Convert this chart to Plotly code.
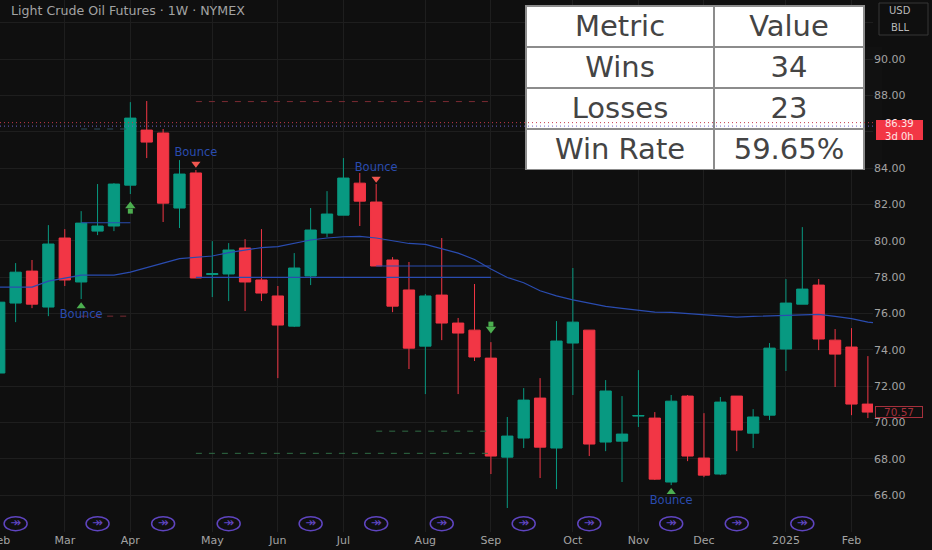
import plotly.graph_objects as go
import pandas as pd

dates = pd.date_range("2024-02-05", periods=54, freq="7D").strftime("%Y-%m-%d").tolist()
opens = [72.72,76.57,78.33,76.35,80.15,77.73,80.53,80.81,83.06,86.09,85.93,81.80,83.73,78.14,78.17,79.60,77.84,76.96,
         75.30,78.06,80.42,81.41,83.17,82.13,78.94,77.29,74.20,77.01,75.47,75.08,73.54,68.09,69.14,71.34,68.59,74.37,
         75.08,68.92,68.97,70.35,70.24,66.72,71.45,68.04,67.16,71.45,69.41,70.40,74.04,76.51,77.56,74.53,74.15,71.01]
highs = [76.74,78.77,78.94,80.86,80.64,81.63,83.12,83.17,87.63,87.69,86.15,84.44,83.89,79.98,79.87,80.09,80.64,77.51,
         79.32,81.80,82.73,84.55,83.73,83.12,79.10,78.83,77.07,80.15,75.75,77.62,74.42,70.30,71.89,72.44,75.58,78.50,
         75.08,72.33,71.45,72.88,70.57,71.51,71.51,70.51,71.40,71.45,70.73,74.37,77.89,80.75,77.89,75.14,75.19,73.65]
lows = [72.72,75.52,76.29,75.85,77.51,76.79,80.31,80.53,82.57,84.55,81.03,80.70,77.95,76.90,76.68,76.13,76.68,72.44,
        75.25,77.56,80.20,81.41,80.81,78.61,76.07,72.94,71.56,74.53,71.56,73.38,67.16,65.29,68.59,66.94,66.33,71.51,
        68.15,68.42,66.72,69.75,66.83,66.55,67.87,66.99,67.10,68.42,68.59,70.13,72.83,76.51,73.98,71.95,70.40,70.24]
closes = [76.62,78.27,76.51,79.82,77.84,80.97,80.81,83.12,86.75,85.43,82.07,83.67,77.95,78.19,79.49,77.73,77.12,75.36,
          78.50,80.59,81.47,83.45,82.18,78.61,76.40,74.09,76.96,75.47,74.92,73.60,68.15,69.25,71.23,68.64,74.48,75.52,
          68.81,71.73,69.36,70.38,66.88,71.17,68.15,67.10,71.12,69.58,70.30,74.09,76.57,77.34,74.59,73.76,71.01,70.57]
ma_dates = dates + ["2025-02-17"]
ma_values = [77.45,77.45,77.45,77.78,77.95,78.11,78.11,78.11,78.27,78.50,78.77,79.02,79.10,79.16,79.35,79.49,79.62,79.68,
             79.85,80.04,80.15,80.22,80.24,80.15,80.00,79.85,79.80,79.58,79.32,78.97,78.44,77.98,77.69,77.25,76.97,76.75,
             76.57,76.39,76.28,76.17,76.07,76.06,76.00,75.91,75.89,75.80,75.84,75.87,75.89,75.96,75.95,75.84,75.71,75.52,75.44]

solid_levels = [("2024-03-11", "2024-04-01", 80.99), ("2024-04-29", "2024-09-02", 77.98), ("2024-07-15", "2024-09-02", 78.61)]
red_dash_levels = [("2024-04-29", "2024-09-02", 87.66), ("2024-03-11", "2024-04-01", 75.85)]
blue_dash_levels = [("2024-03-11", "2024-04-01", 86.15)]
green_dash_levels = [("2024-07-15", "2024-09-02", 69.52), ("2024-04-29", "2024-09-02", 68.30)]

bounce_up_dates = ["2024-03-11", "2024-11-18"]
bounce_up_marks = [76.40, 66.17]
bounce_dn_dates = ["2024-04-29", "2024-07-15"]
bounce_dn_marks = [84.24, 83.41]
bounce_text_dates = ["2024-03-11", "2024-04-29", "2024-07-15", "2024-11-18"]
bounce_text_prices = [75.91, 84.82, 83.98, 65.67]
arrow_up_date, arrow_up_head, arrow_up_shaft = "2024-04-01", 81.91, 81.63
arrow_dn_date, arrow_dn_head, arrow_dn_shaft = "2024-09-02", 75.14, 75.41

event_dates = ["2024-02-12","2024-03-18","2024-04-15","2024-05-13","2024-06-17","2024-07-15","2024-08-12",
               "2024-09-16","2024-10-14","2024-11-18","2024-12-16","2025-01-13"]
event_price = 64.43

month_ticks = ["2024-02-05 12:00","2024-03-04","2024-04-01","2024-05-06","2024-06-03","2024-07-01","2024-08-05",
               "2024-09-02","2024-10-07","2024-11-04","2024-12-02","2025-01-06","2025-02-03"]
month_labels = ["Feb","Mar","Apr","May","Jun","Jul","Aug","Sep","Oct","Nov","Dec","2025","Feb"]
price_ticks = [66,68,70,72,74,76,78,80,82,84,86,88,90,92]
price_labels = ["66.00","68.00","70.00","72.00","74.00","76.00","78.00","80.00","82.00","84.00","","88.00","90.00",""]

table_head = ["Metric", "Value"]
metric_names = ["Wins", "Losses", "Win Rate"]
metric_values = ["34", "23", "59.65%"]

last_price, countdown_price, countdown = 70.57, 86.39, "3d 0h"
tag_top, tag_bottom, tag_middle = 86.64, 85.54, 86.09
dotted_red, dotted_blue = 86.50, 86.31

BG = "#0f0f0f"; GRID = "#1e1e1e"; UP = "#089981"; DOWN = "#f23645"
BLUE = "#2a4cb0"; TEXT = "#a3a3a3"; LIME = "#4caf50"; PURPLE = "#5f45c0"
W, H = 932, 550
PL, PB = 873, 532

fig = go.Figure()
fig.add_trace(go.Scatter(x=ma_dates, y=ma_values, mode="lines", line=dict(color=BLUE, width=1.2), hoverinfo="skip", showlegend=False))
for x0, x1, v in solid_levels:
    fig.add_trace(go.Scatter(x=[x0, x1], y=[v, v], mode="lines", line=dict(color=BLUE, width=1.2), hoverinfo="skip", showlegend=False))
for levels, col in ((red_dash_levels, "#7a2b33"), (blue_dash_levels, "#2f4f60"), (green_dash_levels, "#2f6b45")):
    for x0, x1, v in levels:
        fig.add_trace(go.Scatter(x=[x0, x1], y=[v, v], mode="lines", line=dict(color=col, width=1, dash="6px 7px"), hoverinfo="skip", showlegend=False))

fig.add_trace(go.Candlestick(x=dates, open=opens, high=highs, low=lows, close=closes, showlegend=False,
    increasing=dict(line=dict(color=UP, width=1), fillcolor=UP),
    decreasing=dict(line=dict(color=DOWN, width=1), fillcolor=DOWN)))

fig.add_trace(go.Scatter(x=bounce_up_dates, y=bounce_up_marks, mode="markers", marker=dict(symbol="triangle-up", size=8, color=LIME, line_width=0), showlegend=False))
fig.add_trace(go.Scatter(x=bounce_dn_dates, y=bounce_dn_marks, mode="markers", marker=dict(symbol="triangle-down", size=8, color="#f0564f", line_width=0), showlegend=False))
fig.add_trace(go.Scatter(x=bounce_text_dates, y=bounce_text_prices, mode="text", text=["Bounce"]*4,
    textfont=dict(family="DejaVu Sans", size=11.5, color=BLUE), textposition="middle center", showlegend=False))
fig.add_trace(go.Scatter(x=[arrow_up_date, arrow_dn_date], y=[arrow_up_shaft, arrow_dn_shaft], mode="markers",
    marker=dict(symbol="square", size=5, color=LIME, line_width=0), showlegend=False))
fig.add_trace(go.Scatter(x=[arrow_up_date], y=[arrow_up_head], mode="markers", marker=dict(symbol="triangle-up", size=9, color=LIME, line_width=0), showlegend=False))
fig.add_trace(go.Scatter(x=[arrow_dn_date], y=[arrow_dn_head], mode="markers", marker=dict(symbol="triangle-down", size=9, color=LIME, line_width=0), showlegend=False))
fig.add_trace(go.Scatter(x=event_dates, y=[event_price]*len(event_dates), mode="text", text=["↠"]*len(event_dates),
    textfont=dict(family="DejaVu Sans", size=13, color=PURPLE), textposition="middle center", showlegend=False))

fig.add_trace(go.Table(
    domain=dict(x=[526/PL, 864/PL], y=[1-170/PB, 1-6/PB]),
    columnwidth=[188, 150],
    header=dict(values=table_head, height=41, fill_color="white", align="center", line=dict(color="#8c8c8c", width=1.5),
                font=dict(family="DejaVu Sans", size=29, color="#444444")),
    cells=dict(values=[metric_names, metric_values], height=41, fill_color="white", align="center", line=dict(color="#8c8c8c", width=1.5),
               font=dict(family="DejaVu Sans", size=29, color="#444444"))))

shapes = []
for d in event_dates:
    shapes.append(dict(type="circle", xref="x", yref="y", xsizemode="pixel", ysizemode="pixel", xanchor=d, yanchor=event_price,
                       x0=-11.5, x1=11.5, y0=-7, y1=7, line=dict(color=PURPLE, width=1.5), layer="above"))
for v, c in ((dotted_red, "#c23a4a"), (dotted_blue, "#6f63c8")):
    shapes.append(dict(type="line", xref="paper", yref="y", x0=0, x1=1, y0=v, y1=v, line=dict(color=c, width=1, dash="1px 3px"), layer="above"))
shapes.append(dict(type="rect", xref="paper", yref="paper", x0=879/PL, x1=928/PL, y0=1-35/PB, y1=1-3/PB,
                   line=dict(color="#363636", width=1), fillcolor="rgba(0,0,0,0)"))
shapes.append(dict(type="rect", xref="paper", yref="y", x0=876/PL, x1=923/PL, y0=tag_bottom, y1=tag_top,
                   line=dict(width=0), fillcolor=DOWN, layer="above"))

annotations = [
    dict(xref="paper", yref="paper", x=9/PL, y=1-10/PB, xanchor="left", yanchor="middle", showarrow=False,
         text="Light Crude Oil Futures · 1W · NYMEX", font=dict(family="DejaVu Sans", size=12.6, color=TEXT)),
    dict(xref="paper", yref="paper", x=900/PL, y=1-11/PB, xanchor="center", yanchor="middle", showarrow=False,
         text="USD", font=dict(family="DejaVu Sans", size=10, color="#b8b8b8")),
    dict(xref="paper", yref="paper", x=900/PL, y=1-28/PB, xanchor="center", yanchor="middle", showarrow=False,
         text="BLL", font=dict(family="DejaVu Sans", size=10, color="#b8b8b8")),
    dict(xref="paper", yref="y", x=899.5/PL, y=tag_middle, xanchor="center", yanchor="middle", showarrow=False, borderpad=0,
         text=f"{countdown_price:.2f}<br>{countdown}", font=dict(family="DejaVu Sans", size=10, color="#ffe4e6")),
    dict(xref="paper", yref="y", x=899.5/PL, y=last_price, xanchor="center", yanchor="middle", showarrow=False,
         text=f"{last_price:.2f}", bgcolor=BG, bordercolor="#a5303c", borderwidth=1, width=46, height=10, borderpad=0,
         font=dict(family="DejaVu Sans", size=10.5, color="#a5303c")),
]

fig.update_layout(
    width=W, height=H, margin=dict(l=0, r=W-PL, t=0, b=H-PB, autoexpand=False),
    paper_bgcolor=BG, plot_bgcolor=BG, showlegend=False, hovermode=False,
    boxgap=0.15, boxgroupgap=0.19,
    shapes=shapes, annotations=annotations,
    xaxis=dict(type="date", range=["2024-02-05 08:00", "2025-02-12 04:30"], rangeslider=dict(visible=False), automargin=False,
               tickmode="array", tickvals=month_ticks, ticktext=month_labels, ticks="", showgrid=True, gridcolor=GRID, gridwidth=1,
               ticklabeloverflow="allow", tickangle=0, zeroline=False, showline=False, tickfont=dict(family="DejaVu Sans", size=11, color=TEXT)),
    yaxis=dict(side="right", range=[63.97, 93.25], tickmode="array", tickvals=price_ticks, ticktext=price_labels, ticks="", automargin=False,
               showgrid=True, gridcolor=GRID, gridwidth=1, zeroline=False, showline=False,
               tickfont=dict(family="DejaVu Sans", size=11, color=TEXT)),
)
fig.write_html("out.html", config={"displayModeBar": False},
               post_script="document.body.style.margin='0';document.body.style.overflow='hidden';document.body.style.background='#0f0f0f';")
